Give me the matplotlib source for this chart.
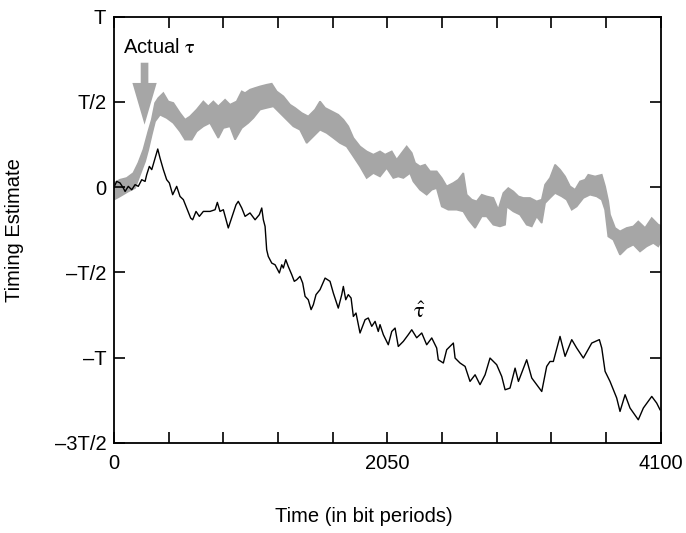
import numpy as np
import matplotlib
matplotlib.use("Agg")
import matplotlib.pyplot as plt

plt.rcParams['font.family'] = ['Liberation Sans', 'DejaVu Sans']
plt.rcParams['mathtext.fontset'] = 'stix'

# estimated timing (tau hat), x in bit periods, y in units of T
est_x = [0, 20, 45, 70, 83, 107, 133, 158, 182, 208, 233, 245, 265, 283, 308, 328, 345, 370, 395, 415,
         440, 470, 495, 520, 550, 575, 590, 615, 640, 670, 720, 758, 775, 795, 820, 857, 890, 915, 932, 958,
         983, 1020, 1058, 1090, 1108, 1120, 1133, 1145, 1157, 1183, 1208, 1240, 1258, 1270, 1288, 1307, 1333, 1352, 1370, 1395,
         1415, 1433, 1457, 1478, 1495, 1515, 1545, 1583, 1620, 1645, 1682, 1708, 1720, 1738, 1757, 1778, 1795, 1815, 1845, 1883,
         1907, 1933, 1958, 1982, 1995, 2020, 2057, 2083, 2108, 2132, 2170, 2207, 2233, 2270, 2308, 2345, 2383, 2420, 2432, 2470,
         2495, 2545, 2558, 2595, 2633, 2670, 2708, 2745, 2783, 2820, 2870, 2908, 2933, 2970, 3008, 3033, 3095, 3133, 3208, 3245,
         3270, 3295, 3345, 3383, 3433, 3470, 3520, 3583, 3640, 3658, 3683, 3720, 3770, 3795, 3833, 3870, 3932, 3970, 4033, 4070,
         4095]
est_y = [0.00, 0.034, 0.025, -0.005, -0.025, 0.005, -0.015, 0.015, 0.005, 0.044, 0.034, 0.073, 0.122, 0.103, 0.171, 0.224, 0.171, 0.103, 0.044, 0.025,
         -0.044, 0.005, -0.054, -0.073, -0.132, -0.181, -0.191, -0.142, -0.171, -0.142, -0.142, -0.132, -0.089, -0.142, -0.132, -0.239, -0.161, -0.103, -0.083, -0.122,
         -0.171, -0.151, -0.191, -0.161, -0.122, -0.191, -0.230, -0.367, -0.406, -0.445, -0.455, -0.503, -0.455, -0.474, -0.425, -0.465, -0.513, -0.552, -0.543, -0.523,
         -0.562, -0.640, -0.660, -0.718, -0.689, -0.630, -0.601, -0.533, -0.552, -0.621, -0.709, -0.630, -0.582, -0.660, -0.630, -0.650, -0.758, -0.738, -0.855, -0.777,
         -0.767, -0.816, -0.787, -0.846, -0.806, -0.865, -0.924, -0.846, -0.826, -0.934, -0.904, -0.865, -0.836, -0.883, -0.855, -0.924, -0.884, -0.943, -1.012, -1.031,
         -0.953, -0.914, -1.002, -1.031, -1.051, -1.139, -1.100, -1.158, -1.100, -1.002, -1.041, -1.110, -1.188, -1.178, -1.061, -1.139, -1.012, -1.119, -1.198, -1.051,
         -1.022, -1.022, -0.875, -0.992, -0.894, -0.943, -1.002, -0.914, -0.894, -0.943, -1.080, -1.139, -1.236, -1.315, -1.217, -1.295, -1.364, -1.295, -1.227, -1.266,
         -1.305]

# actual timing band (thick gray trace): upper and lower edges
top_x = [0, 45, 95, 145, 182, 220, 257, 283, 308, 332, 370, 407, 445, 495, 533, 570, 620, 670, 707, 745,
         782, 833, 870, 920, 958, 983, 1020, 1058, 1095, 1145, 1183, 1220, 1270, 1320, 1358, 1408, 1457, 1508, 1545, 1583,
         1633, 1682, 1720, 1757, 1795, 1845, 1895, 1945, 1995, 2033, 2083, 2120, 2158, 2195, 2233, 2258, 2295, 2333, 2370, 2420,
         2458, 2495, 2545, 2582, 2620, 2645, 2683, 2720, 2758, 2795, 2845, 2882, 2920, 2957, 2995, 3033, 3070, 3120, 3170, 3208,
         3233, 3270, 3308, 3345, 3383, 3420, 3458, 3495, 3533, 3557, 3608, 3658, 3683, 3707, 3720, 3758, 3795, 3845, 3895, 3932,
         3983, 4033, 4082, 4120]
top_y = [0.025, 0.044, 0.054, 0.083, 0.142, 0.220, 0.327, 0.396, 0.494, 0.523, 0.552, 0.503, 0.494, 0.435, 0.396, 0.415, 0.455, 0.503, 0.474, 0.503,
         0.474, 0.513, 0.484, 0.503, 0.562, 0.552, 0.572, 0.582, 0.591, 0.601, 0.607, 0.562, 0.533, 0.484, 0.465, 0.435, 0.415, 0.455, 0.503, 0.465,
         0.445, 0.425, 0.396, 0.357, 0.289, 0.239, 0.210, 0.191, 0.210, 0.191, 0.210, 0.161, 0.201, 0.239, 0.201, 0.142, 0.122, 0.132, 0.093, 0.093,
         0.054, 0.005, 0.025, 0.044, 0.083, -0.044, -0.073, -0.083, -0.044, -0.054, -0.063, -0.132, -0.034, -0.005, -0.025, -0.054, -0.063, -0.063, -0.083, -0.073,
         0.015, 0.054, 0.132, 0.103, 0.063, 0.005, -0.015, 0.034, 0.044, 0.073, 0.063, 0.073, 0.005, -0.083, -0.161, -0.239, -0.259, -0.239, -0.230, -0.201,
         -0.239, -0.181, -0.220, -0.230]
bot_x = [0, 45, 107, 158, 195, 233, 257, 283, 308, 345, 395, 445, 495, 533, 583, 620, 670, 720, 782, 820,
         870, 908, 958, 1007, 1045, 1095, 1145, 1195, 1245, 1295, 1345, 1395, 1445, 1495, 1545, 1595, 1645, 1695, 1745, 1795,
         1845, 1895, 1945, 1995, 2045, 2095, 2132, 2170, 2220, 2245, 2295, 2345, 2383, 2420, 2458, 2507, 2570, 2620, 2658, 2708,
         2758, 2795, 2845, 2895, 2933, 2945, 2995, 3045, 3095, 3133, 3170, 3208, 3233, 3270, 3308, 3358, 3395, 3433, 3470, 3520,
         3570, 3620, 3658, 3683, 3707, 3745, 3795, 3845, 3895, 3945, 3995, 4045, 4082, 4120]
bot_y = [-0.073, -0.054, -0.025, -0.005, 0.073, 0.151, 0.220, 0.308, 0.386, 0.425, 0.406, 0.377, 0.327, 0.279, 0.279, 0.327, 0.357, 0.377, 0.289, 0.347,
         0.357, 0.279, 0.347, 0.377, 0.406, 0.455, 0.465, 0.474, 0.435, 0.396, 0.357, 0.337, 0.259, 0.298, 0.337, 0.318, 0.289, 0.259, 0.239, 0.181,
         0.122, 0.054, 0.083, 0.063, 0.113, 0.054, 0.063, 0.054, 0.083, 0.034, -0.015, -0.044, -0.015, -0.005, -0.113, -0.132, -0.132, -0.142, -0.191, -0.239,
         -0.171, -0.171, -0.220, -0.230, -0.220, -0.113, -0.142, -0.161, -0.220, -0.230, -0.171, -0.210, -0.093, -0.063, -0.034, -0.054, -0.073, -0.132, -0.113, -0.063,
         -0.044, -0.054, -0.073, -0.132, -0.289, -0.308, -0.396, -0.357, -0.337, -0.377, -0.347, -0.327, -0.347, -0.289]

x_ticks = [0, 410, 820, 1230, 1640, 2050, 2460, 2870, 3280, 3690, 4100]
x_labels = ['0', '', '', '', '', '2050', '', '', '', '', '4100']
y_ticks = [-1.5, -1.0, -0.5, 0, 0.5, 1.0]
y_labels = ['\u20133T/2', '\u2013T', '\u2013T/2', '0', 'T/2', 'T']

gray = '#a6a6a6'
fs = 14.5

fig = plt.figure(figsize=(6.86, 5.33), dpi=100)
ax = fig.add_axes([0.1662, 0.1689, 0.7969, 0.7998])

# gray band as a closed polygon (thin edge stroke thickens it a little)
poly_x = np.r_[top_x, bot_x[::-1]]
poly_y = np.r_[top_y, bot_y[::-1]]
ax.fill(poly_x, poly_y, facecolor=gray, edgecolor=gray, lw=1.2,
        joinstyle='miter', zorder=1)

ax.plot(est_x, est_y, color='black', lw=1.0, zorder=2)

# arrow pointing at the actual timing
ax.annotate('', xy=(229, 0.367), xytext=(229, 0.73),
            arrowprops=dict(arrowstyle='simple,head_length=3.0,head_width=1.75,tail_width=0.55',
                            color=gray, lw=0, shrinkA=0, shrinkB=0, mutation_scale=10))
ax.text(65, 0.818, r'Actual $\mathrm{\tau}$', fontsize=fs, va='center', ha='left')
ax.text(2288, -0.736, r'$\hat{\mathrm{\tau}}$', fontsize=16, ha='center', va='center')

ax.set_xlim(0, 4100)
ax.set_ylim(-1.5, 1.0)
ax.set_xticks(x_ticks)
ax.set_xticklabels(x_labels)
ax.set_yticks(y_ticks)
ax.set_yticklabels(y_labels)
ax.tick_params(direction='in', length=8, width=1.2, top=True, right=True,
               labelsize=fs)
ax.tick_params(axis='x', pad=8)
ax.tick_params(axis='y', pad=5.5)
for s in ax.spines.values():
    s.set_linewidth(1.3)

fig.text(364 / 686, 1 - 517 / 533, 'Time (in bit periods)', fontsize=fs,
         ha='center', va='center')
fig.text(15 / 686, 1 - 230 / 533, 'Timing Estimate', fontsize=fs,
         rotation=90, ha='center', va='center')

fig.savefig('out.png', dpi=100)
